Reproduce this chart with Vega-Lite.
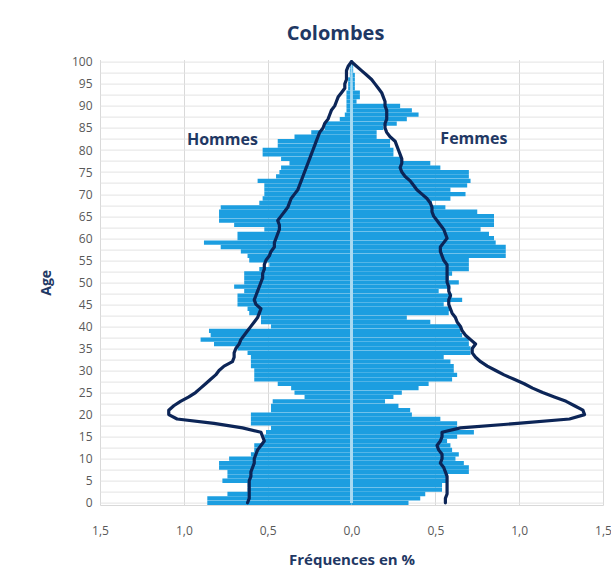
{
  "$schema": "https://vega.github.io/schema/vega-lite/v6.json",
  "autosize": {"type": "none"},
  "padding": {"left": 100, "top": 59.6, "right": 8, "bottom": 67},
  "width": 503,
  "height": 445.4,
  "background": "white",
  "config": {
    "font": "Open Sans",
    "view": {"stroke": null}
  },
  "title": {
    "text": "Colombes",
    "fontSize": 20,
    "fontWeight": "bold",
    "color": "#1f3864",
    "dx": -16,
    "offset": 12
  },
  "data": {
    "values": [
      {"age": 100, "h": 0, "f": 0, "hr": 0, "fr": 0},
      {"age": 99, "h": -0.01, "f": 0.01, "hr": -0.02, "fr": 0.03},
      {"age": 98, "h": -0.01, "f": 0.01, "hr": -0.03, "fr": 0.06},
      {"age": 97, "h": -0.01, "f": 0.02, "hr": -0.03, "fr": 0.09},
      {"age": 96, "h": -0.02, "f": 0.02, "hr": -0.03, "fr": 0.12},
      {"age": 95, "h": -0.02, "f": 0.02, "hr": -0.04, "fr": 0.14},
      {"age": 94, "h": -0.02, "f": 0.02, "hr": -0.04, "fr": 0.16},
      {"age": 93, "h": -0.03, "f": 0.05, "hr": -0.06, "fr": 0.18},
      {"age": 92, "h": -0.03, "f": 0.05, "hr": -0.08, "fr": 0.19},
      {"age": 91, "h": -0.03, "f": 0.03, "hr": -0.09, "fr": 0.2},
      {"age": 90, "h": -0.03, "f": 0.29, "hr": -0.1, "fr": 0.2},
      {"age": 89, "h": -0.03, "f": 0.36, "hr": -0.12, "fr": 0.21},
      {"age": 88, "h": -0.04, "f": 0.4, "hr": -0.13, "fr": 0.21},
      {"age": 87, "h": -0.07, "f": 0.33, "hr": -0.14, "fr": 0.21},
      {"age": 86, "h": -0.16, "f": 0.27, "hr": -0.16, "fr": 0.2},
      {"age": 85, "h": -0.16, "f": 0.19, "hr": -0.17, "fr": 0.2},
      {"age": 84, "h": -0.24, "f": 0.15, "hr": -0.19, "fr": 0.21},
      {"age": 83, "h": -0.34, "f": 0.15, "hr": -0.2, "fr": 0.23},
      {"age": 82, "h": -0.44, "f": 0.23, "hr": -0.21, "fr": 0.26},
      {"age": 81, "h": -0.44, "f": 0.23, "hr": -0.22, "fr": 0.27},
      {"age": 80, "h": -0.53, "f": 0.25, "hr": -0.23, "fr": 0.28},
      {"age": 79, "h": -0.53, "f": 0.25, "hr": -0.24, "fr": 0.29},
      {"age": 78, "h": -0.42, "f": 0.3, "hr": -0.25, "fr": 0.3},
      {"age": 77, "h": -0.37, "f": 0.47, "hr": -0.26, "fr": 0.3},
      {"age": 76, "h": -0.42, "f": 0.53, "hr": -0.27, "fr": 0.29},
      {"age": 75, "h": -0.43, "f": 0.7, "hr": -0.28, "fr": 0.3},
      {"age": 74, "h": -0.45, "f": 0.7, "hr": -0.29, "fr": 0.32},
      {"age": 73, "h": -0.56, "f": 0.71, "hr": -0.3, "fr": 0.35},
      {"age": 72, "h": -0.52, "f": 0.69, "hr": -0.31, "fr": 0.37},
      {"age": 71, "h": -0.52, "f": 0.59, "hr": -0.32, "fr": 0.39},
      {"age": 70, "h": -0.52, "f": 0.68, "hr": -0.34, "fr": 0.42},
      {"age": 69, "h": -0.53, "f": 0.59, "hr": -0.36, "fr": 0.45},
      {"age": 68, "h": -0.55, "f": 0.48, "hr": -0.37, "fr": 0.47},
      {"age": 67, "h": -0.78, "f": 0.56, "hr": -0.38, "fr": 0.48},
      {"age": 66, "h": -0.79, "f": 0.75, "hr": -0.4, "fr": 0.48},
      {"age": 65, "h": -0.79, "f": 0.85, "hr": -0.42, "fr": 0.49},
      {"age": 64, "h": -0.79, "f": 0.85, "hr": -0.44, "fr": 0.51},
      {"age": 63, "h": -0.7, "f": 0.85, "hr": -0.43, "fr": 0.53},
      {"age": 62, "h": -0.52, "f": 0.77, "hr": -0.43, "fr": 0.55},
      {"age": 61, "h": -0.68, "f": 0.82, "hr": -0.44, "fr": 0.56},
      {"age": 60, "h": -0.68, "f": 0.85, "hr": -0.45, "fr": 0.57},
      {"age": 59, "h": -0.88, "f": 0.86, "hr": -0.46, "fr": 0.55},
      {"age": 58, "h": -0.78, "f": 0.92, "hr": -0.46, "fr": 0.53},
      {"age": 57, "h": -0.66, "f": 0.92, "hr": -0.48, "fr": 0.53},
      {"age": 56, "h": -0.62, "f": 0.92, "hr": -0.49, "fr": 0.54},
      {"age": 55, "h": -0.61, "f": 0.7, "hr": -0.51, "fr": 0.55},
      {"age": 54, "h": -0.49, "f": 0.7, "hr": -0.52, "fr": 0.57},
      {"age": 53, "h": -0.55, "f": 0.7, "hr": -0.52, "fr": 0.57},
      {"age": 52, "h": -0.64, "f": 0.6, "hr": -0.53, "fr": 0.57},
      {"age": 51, "h": -0.64, "f": 0.58, "hr": -0.53, "fr": 0.57},
      {"age": 50, "h": -0.64, "f": 0.64, "hr": -0.54, "fr": 0.57},
      {"age": 49, "h": -0.7, "f": 0.59, "hr": -0.55, "fr": 0.58},
      {"age": 48, "h": -0.64, "f": 0.52, "hr": -0.56, "fr": 0.58},
      {"age": 47, "h": -0.68, "f": 0.6, "hr": -0.57, "fr": 0.59},
      {"age": 46, "h": -0.68, "f": 0.66, "hr": -0.58, "fr": 0.58},
      {"age": 45, "h": -0.68, "f": 0.55, "hr": -0.57, "fr": 0.58},
      {"age": 44, "h": -0.62, "f": 0.59, "hr": -0.54, "fr": 0.59},
      {"age": 43, "h": -0.61, "f": 0.58, "hr": -0.55, "fr": 0.6},
      {"age": 42, "h": -0.54, "f": 0.33, "hr": -0.56, "fr": 0.62},
      {"age": 41, "h": -0.54, "f": 0.47, "hr": -0.58, "fr": 0.63},
      {"age": 40, "h": -0.48, "f": 0.65, "hr": -0.6, "fr": 0.65},
      {"age": 39, "h": -0.85, "f": 0.65, "hr": -0.62, "fr": 0.66},
      {"age": 38, "h": -0.84, "f": 0.66, "hr": -0.64, "fr": 0.68},
      {"age": 37, "h": -0.9, "f": 0.7, "hr": -0.66, "fr": 0.71},
      {"age": 36, "h": -0.82, "f": 0.7, "hr": -0.67, "fr": 0.74},
      {"age": 35, "h": -0.68, "f": 0.71, "hr": -0.69, "fr": 0.72},
      {"age": 34, "h": -0.62, "f": 0.71, "hr": -0.7, "fr": 0.72},
      {"age": 33, "h": -0.6, "f": 0.55, "hr": -0.7, "fr": 0.74},
      {"age": 32, "h": -0.6, "f": 0.59, "hr": -0.71, "fr": 0.77},
      {"age": 31, "h": -0.6, "f": 0.61, "hr": -0.76, "fr": 0.81},
      {"age": 30, "h": -0.58, "f": 0.61, "hr": -0.79, "fr": 0.86},
      {"age": 29, "h": -0.58, "f": 0.63, "hr": -0.81, "fr": 0.91},
      {"age": 28, "h": -0.58, "f": 0.6, "hr": -0.84, "fr": 0.97},
      {"age": 27, "h": -0.44, "f": 0.46, "hr": -0.87, "fr": 1.03},
      {"age": 26, "h": -0.36, "f": 0.4, "hr": -0.9, "fr": 1.08},
      {"age": 25, "h": -0.34, "f": 0.3, "hr": -0.93, "fr": 1.14},
      {"age": 24, "h": -0.28, "f": 0.25, "hr": -0.97, "fr": 1.21},
      {"age": 23, "h": -0.47, "f": 0.2, "hr": -1.02, "fr": 1.28},
      {"age": 22, "h": -0.48, "f": 0.28, "hr": -1.06, "fr": 1.33},
      {"age": 21, "h": -0.48, "f": 0.35, "hr": -1.09, "fr": 1.38},
      {"age": 20, "h": -0.6, "f": 0.36, "hr": -1.09, "fr": 1.39},
      {"age": 19, "h": -0.6, "f": 0.53, "hr": -1.04, "fr": 1.3},
      {"age": 18, "h": -0.6, "f": 0.63, "hr": -0.82, "fr": 0.99},
      {"age": 17, "h": -0.48, "f": 0.63, "hr": -0.65, "fr": 0.65},
      {"age": 16, "h": -0.51, "f": 0.73, "hr": -0.54, "fr": 0.54},
      {"age": 15, "h": -0.52, "f": 0.63, "hr": -0.53, "fr": 0.54},
      {"age": 14, "h": -0.52, "f": 0.57, "hr": -0.52, "fr": 0.53},
      {"age": 13, "h": -0.58, "f": 0.59, "hr": -0.54, "fr": 0.51},
      {"age": 12, "h": -0.58, "f": 0.6, "hr": -0.56, "fr": 0.52},
      {"age": 11, "h": -0.6, "f": 0.64, "hr": -0.57, "fr": 0.54},
      {"age": 10, "h": -0.73, "f": 0.62, "hr": -0.58, "fr": 0.54},
      {"age": 9, "h": -0.79, "f": 0.67, "hr": -0.58, "fr": 0.53},
      {"age": 8, "h": -0.79, "f": 0.7, "hr": -0.59, "fr": 0.55},
      {"age": 7, "h": -0.74, "f": 0.7, "hr": -0.6, "fr": 0.56},
      {"age": 6, "h": -0.74, "f": 0.57, "hr": -0.6, "fr": 0.57},
      {"age": 5, "h": -0.77, "f": 0.57, "hr": -0.61, "fr": 0.57},
      {"age": 4, "h": -0.62, "f": 0.54, "hr": -0.61, "fr": 0.57},
      {"age": 3, "h": -0.62, "f": 0.54, "hr": -0.61, "fr": 0.57},
      {"age": 2, "h": -0.74, "f": 0.44, "hr": -0.61, "fr": 0.57},
      {"age": 1, "h": -0.86, "f": 0.41, "hr": -0.61, "fr": 0.56},
      {"age": 0, "h": -0.86, "f": 0.34, "hr": -0.62, "fr": 0.56}
    ]
  },
  "encoding": {
    "y": {
      "field": "age",
      "type": "quantitative",
      "scale": {"domain": [-0.5, 100.5], "nice": false, "zero": false, "padding": 0},
      "axis": {
        "title": "Age",
        "titleFontSize": 14,
        "titleFontWeight": "bold",
        "titleColor": "#1f3864",
        "titlePadding": 18,
        "values": [0, 2.5, 5, 7.5, 10, 12.5, 15, 17.5, 20, 22.5, 25, 27.5, 30, 32.5, 35, 37.5, 40, 42.5, 45, 47.5, 50, 52.5, 55, 57.5, 60, 62.5, 65, 67.5, 70, 72.5, 75, 77.5, 80, 82.5, 85, 87.5, 90, 92.5, 95, 97.5, 100],
        "labelExpr": "datum.value % 5 === 0 ? datum.value : ''",
        "labelFontSize": 12,
        "labelColor": "#595959",
        "labelPadding": 8,
        "ticks": false,
        "domain": false,
        "grid": true,
        "gridColor": "#e3e3e3",
        "gridWidth": 1
      }
    }
  },
  "layer": [
    {
      "mark": {"type": "bar", "orient": "horizontal", "height": 4.3, "color": "#1c9ee0"},
      "encoding": {
        "x": {
          "field": "h",
          "type": "quantitative",
          "scale": {"domain": [-1.5, 1.5], "nice": false, "zero": false, "padding": 0},
          "axis": {
            "title": "Fréquences en %",
            "titleFontSize": 15,
            "titleFontWeight": "bold",
            "titleColor": "#1f3864",
            "titlePadding": 16,
            "values": [-1.5, -1, -0.5, 0, 0.5, 1, 1.5],
            "labelExpr": "replace(format(abs(datum.value), '.1f'), '.', ',')",
            "labelFontSize": 12,
            "labelColor": "#595959",
            "labelPadding": 20,
            "ticks": false,
            "domain": true,
            "domainColor": "#d9d9d9",
            "grid": true,
            "gridColor": "#d9d9d9",
            "labelFlush": false
          }
        },
        "x2": {"datum": 0}
      }
    },
    {
      "mark": {"type": "bar", "orient": "horizontal", "height": 4.3, "color": "#1c9ee0"},
      "encoding": {
        "x": {"field": "f", "type": "quantitative"},
        "x2": {"datum": 0}
      }
    },
    {
      "mark": {"type": "rule", "color": "#a8daf3", "strokeWidth": 1.5},
      "encoding": {"x": {"datum": 0}}
    },
    {
      "mark": {"type": "line", "color": "#0c2557", "strokeWidth": 3.2, "strokeJoin": "round", "strokeCap": "round"},
      "encoding": {
        "x": {"field": "hr", "type": "quantitative"},
        "order": {"field": "age", "type": "quantitative"}
      }
    },
    {
      "mark": {"type": "line", "color": "#0c2557", "strokeWidth": 3.2, "strokeJoin": "round", "strokeCap": "round"},
      "encoding": {
        "x": {"field": "fr", "type": "quantitative"},
        "order": {"field": "age", "type": "quantitative"}
      }
    },
    {
      "data": {"values": [{"label": "Hommes", "lx": -0.77, "ly": 82.3}, {"label": "Femmes", "lx": 0.73, "ly": 82.6}]},
      "mark": {"type": "text", "fontSize": 16, "fontWeight": "bold", "color": "#1f3864"},
      "encoding": {
        "x": {"field": "lx", "type": "quantitative"},
        "y": {"field": "ly", "type": "quantitative"},
        "text": {"field": "label"}
      }
    }
  ]
}
